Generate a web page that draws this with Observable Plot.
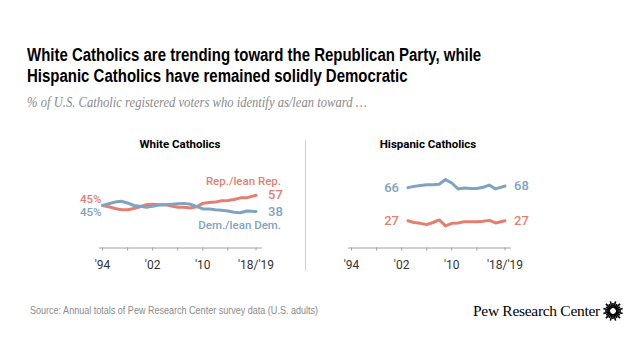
<!DOCTYPE html>
<html>
<head>
<meta charset="utf-8">
<script src="https://cdn.jsdelivr.net/npm/d3@7"></script>
<script src="https://cdn.jsdelivr.net/npm/@observablehq/plot@0.6"></script>
<style>
  html, body { margin: 0; padding: 0; background: #fff; }
  #page { position: relative; width: 640px; height: 360px; overflow: hidden; background: #fff; }
  .abs { position: absolute; white-space: nowrap; }
  #title { left: 27px; top: 45px; font-family: "Liberation Sans", Arial, sans-serif; font-weight: bold; font-size: 17.5px; line-height: 21px; color: #000; transform: scaleX(0.856); transform-origin: left top; }
  #subtitle { left: 27px; top: 94px; font-family: "Liberation Serif", serif; font-style: italic; font-size: 14.5px; color: #8a8a8a; transform: scaleX(0.87); transform-origin: left top; }
  .ptitle { top: 137px; font-family: Roboto, sans-serif; font-weight: bold; font-size: 11.5px; color: #000; transform: translateX(-50%); }
  #source { left: 30px; top: 304px; font-family: "Liberation Sans", Arial, sans-serif; font-size: 11.5px; color: #8a8a8a; transform: scaleX(0.785); transform-origin: left top; }
  #brand { left: 473px; top: 302px; font-family: "Liberation Serif", serif; font-size: 15.5px; color: #000; letter-spacing: -0.3px; }
  #divider { left: 305px; top: 140px; width: 1px; height: 131px; background: #d0d0d0; }
  .chart { position: absolute; top: 130px; }
</style>
</head>
<body>
<div id="page">
  <div id="title" class="abs">White Catholics are trending toward the Republican Party, while<br>Hispanic Catholics have remained solidly Democratic</div>
  <div id="subtitle" class="abs">% of U.S. Catholic registered voters who identify as/lean toward …</div>
  <div class="abs ptitle" style="left:180px">White Catholics</div>
  <div class="abs ptitle" style="left:428px">Hispanic Catholics</div>
  <div id="divider" class="abs"></div>
  <div id="left" class="chart" style="left:0px"></div>
  <div id="right" class="chart" style="left:300px"></div>
  <div id="source" class="abs">Source: Annual totals of Pew Research Center survey data (U.S. adults)</div>
  <div id="brand" class="abs">Pew Research Center</div>
  <svg id="logo" class="abs" style="left:602px; top:300px" width="22" height="22"></svg>
</div>
<script>
// ---------- data ----------
const seriesNames = ["Rep./lean Rep.", "Dem./lean Dem."];
const whiteYears = [1994, 1995, 1996, 1997, 1998, 1999, 2000, 2001, 2002, 2003, 2004, 2005, 2006, 2007, 2008, 2009, 2010, 2011, 2012, 2013, 2014, 2015, 2016, 2017, 2018.5];
const whiteRep   = [45, 43.5, 41.5, 40, 40, 41.5, 43.5, 46, 46.5, 46, 46, 44.5, 43, 43, 42, 43.5, 47.5, 48.5, 49, 50.5, 51, 52, 54, 54, 57];
const whiteDem   = [45, 47, 49, 50, 48, 45, 44, 43, 44, 45.5, 46, 46.5, 47, 47.5, 46.5, 44, 41, 41, 40, 39.5, 38.5, 37, 36.5, 38.5, 38];
const hispYears  = [2003, 2004, 2005, 2006, 2007, 2008, 2009, 2010, 2011, 2012, 2013, 2014, 2015, 2016, 2017, 2018.5];
const hispRep    = [27, 25, 24, 22.5, 25, 28, 21, 24, 24.5, 26, 26, 26, 26.5, 27.5, 24.5, 27];
const hispDem    = [66, 67.5, 68.5, 69.5, 69.5, 70, 75.5, 71.5, 64.5, 65.5, 65, 65, 66.5, 69, 64.5, 68];
const tickYears  = [1994, 1998, 2002, 2006, 2010, 2014, 2018.5];
const tickLabels = ["'94", "", "'02", "", "'10", "", "'18/'19"];

const REP = "#e47f70";
const DEM = "#7fa3c2";

function panel({years, rep, dem, marginLeft, marginRight, startPct, startDx, endDx, names}) {
  const rows = [];
  years.forEach((yr, i) => {
    rows.push({year: yr, value: rep[i], party: seriesNames[0]});
    rows.push({year: yr, value: dem[i], party: seriesNames[1]});
  });
  const n = years.length - 1;
  const sfx = startPct ? "%" : "";
  const repStart = [{year: years[0], value: rep[0], t: rep[0] + sfx}];
  const demStart = [{year: years[0], value: dem[0], t: dem[0] + sfx}];
  const endLabels = [
    {year: years[n], value: rep[n], t: String(rep[n]), c: REP},
    {year: years[n], value: dem[n], t: String(dem[n]), c: DEM}
  ];
  const marks = [
    Plot.ruleY([-5], {stroke: "#a0a0a0", strokeWidth: 1}),
    Plot.axisX({ticks: tickYears, tickSize: 3, tickPadding: 9, fontSize: 12, label: null,
      tickFormat: d => tickLabels[tickYears.indexOf(d)], stroke: "#a0a0a0", fill: "#333"}),
    Plot.line(rows, {x: "year", y: "value", z: "party", stroke: d => d.party === seriesNames[0] ? REP : DEM,
      strokeWidth: 3, strokeLinejoin: "round", strokeLinecap: "round"}),
    Plot.text(repStart, {x: "year", y: "value", text: "t", fill: REP, dy: startPct ? -6.5 : 0,
      textAnchor: "end", dx: startDx, fontSize: startPct ? 11.5 : 13, fontWeight: 500}),
    Plot.text(demStart, {x: "year", y: "value", text: "t", fill: DEM, dy: startPct ? 6.5 : 0,
      textAnchor: "end", dx: startDx, fontSize: startPct ? 11.5 : 13, fontWeight: 500}),
    Plot.text(endLabels, {x: "year", y: "value", text: "t", fill: "c",
      textAnchor: "start", dx: endDx, fontSize: 13, fontWeight: 500})
  ];
  if (names) {
    marks.push(Plot.text([{year: years[n], value: rep[n], t: seriesNames[0]}], {x: "year", y: "value", text: "t",
      fill: REP, textAnchor: "end", dx: 25, dy: -14, fontSize: 11.5, fontWeight: 500}));
    marks.push(Plot.text([{year: years[n], value: dem[n], t: seriesNames[1]}], {x: "year", y: "value", text: "t",
      fill: DEM, textAnchor: "end", dx: 25, dy: 14, fontSize: 11.5, fontWeight: 500}));
  }
  return Plot.plot({
    width: 300, height: 145,
    marginLeft, marginRight, marginTop: 28.25, marginBottom: 27.5,
    x: {domain: [1993.5, 2019.5], label: null},
    y: {domain: [-5, 100], axis: null},
    style: {fontFamily: "Roboto, sans-serif", background: "transparent", overflow: "visible"},
    marks
  });
}

document.getElementById("left").append(panel({years: whiteYears, rep: whiteRep, dem: whiteDem,
  marginLeft: 98.9, marginRight: 38.2, startPct: true, startDx: -1, endDx: 12, names: true}));
document.getElementById("right").append(panel({years: hispYears, rep: hispRep, dem: hispDem,
  marginLeft: 47.9, marginRight: 89.2, startPct: false, startDx: -9, endDx: 9, names: false}));

// logo (decorative sunburst)
const logo = d3.select("#logo");
d3.range(24).forEach(i => {
  const a = i / 24 * 2 * Math.PI;
  logo.append("line")
    .attr("x1", 11 + Math.cos(a) * 3).attr("y1", 11 + Math.sin(a) * 3)
    .attr("x2", 11 + Math.cos(a) * (i % 2 ? 10 : 8)).attr("y2", 11 + Math.sin(a) * (i % 2 ? 10 : 8))
    .attr("stroke", "#000").attr("stroke-width", 1.6);
});
</script>
</body>
</html>
